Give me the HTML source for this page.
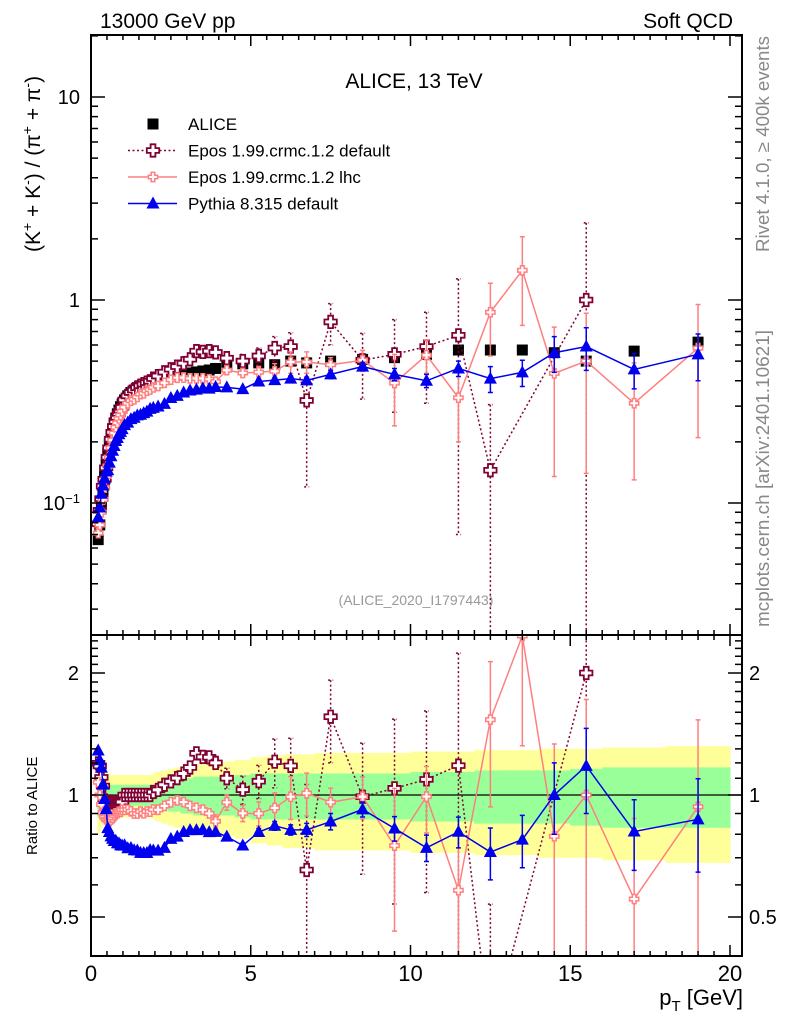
<!DOCTYPE html>
<html><head><meta charset="utf-8"><style>
html,body{margin:0;padding:0;background:#fff;width:786px;height:1024px;overflow:hidden;}
svg{display:block;font-family:"Liberation Sans",sans-serif;overflow:hidden;}
</style></head><body>
<svg id="chart" xmlns="http://www.w3.org/2000/svg" width="786" height="1024" viewBox="0 0 786 1024">
<defs>
<clipPath id="clipMain"><rect x="91" y="35" width="651" height="600"/></clipPath>
<clipPath id="clipRatio"><rect x="91" y="635" width="651" height="321"/></clipPath>
</defs>
<g id="bands" clip-path="url(#clipRatio)"></g>
<g id="ratioMarks" clip-path="url(#clipRatio)"></g>
<g id="mainMarks" clip-path="url(#clipMain)"></g>
<g id="axes"></g>
<text x="100" y="28" font-size="21">13000 GeV pp</text>
<text x="733" y="28" font-size="21" text-anchor="end">Soft QCD</text>
<text x="414" y="88" font-size="21" text-anchor="middle">ALICE, 13 TeV</text>
<text x="416" y="605" font-size="14" fill="#999" text-anchor="middle">(ALICE_2020_I1797443)</text>
<text transform="translate(769,252) rotate(-90)" font-size="18" fill="#888" textLength="216" lengthAdjust="spacingAndGlyphs">Rivet 4.1.0, ≥ 400k events</text>
<text transform="translate(769,627) rotate(-90)" font-size="18" fill="#888" textLength="297" lengthAdjust="spacingAndGlyphs">mcplots.cern.ch [arXiv:2401.10621]</text>
<text transform="translate(40,252) rotate(-90)" font-size="21">(K<tspan baseline-shift="super" font-size="14">+</tspan> + K<tspan baseline-shift="super" font-size="14">-</tspan>) / (π<tspan baseline-shift="super" font-size="14">+</tspan> + π<tspan baseline-shift="super" font-size="14">-</tspan>)</text>
<text transform="translate(37,855) rotate(-90)" font-size="15">Ratio to ALICE</text>
<text x="743" y="1005" font-size="22" text-anchor="end">p<tspan font-size="15" dy="6">T</tspan><tspan dy="-6"> [GeV]</tspan></text>
<g id="legend"></g>
</svg>
<script>
const pT=[0.225,0.275,0.325,0.375,0.425,0.475,0.525,0.575,0.625,0.675,0.725,0.775,0.825,0.875,0.925,0.975,1.05,1.15,1.25,1.35,1.45,1.55,1.65,1.75,1.85,1.95,2.1,2.3,2.5,2.7,2.9,3.1,3.3,3.5,3.7,3.9,4.25,4.75,5.25,5.75,6.25,6.75,7.5,8.5,9.5,10.5,11.5,12.5,13.5,14.5,15.5,17,19];
const binEdges=[0.2,0.25,0.3,0.35,0.4,0.45,0.5,0.55,0.6,0.65,0.7,0.75,0.8,0.85,0.9,0.95,1.0,1.1,1.2,1.3,1.4,1.5,1.6,1.7,1.8,1.9,2.0,2.2,2.4,2.6,2.8,3.0,3.2,3.4,3.6,3.8,4.0,4.5,5.0,5.5,6.0,6.5,7.0,8.0,9.0,10,11,12,13,14,15,16,18,20];
const alice=[0.066,0.078,0.095,0.115,0.135,0.155,0.175,0.195,0.215,0.232,0.248,0.262,0.275,0.287,0.298,0.308,0.322,0.337,0.35,0.36,0.37,0.378,0.385,0.392,0.398,0.403,0.41,0.416,0.422,0.427,0.432,0.437,0.442,0.447,0.452,0.46,0.47,0.485,0.49,0.48,0.5,0.49,0.5,0.51,0.52,0.54,0.567,0.567,0.567,0.55,0.5,0.56,0.62];
const aliceStatRel=[0.12,0.11,0.09,0.08,0.08,0.07,0.07,0.06,0.06,0.06,0.06,0.06,0.06,0.06,0.06,0.06,0.06,0.06,0.06,0.06,0.06,0.06,0.06,0.06,0.06,0.06,0.07,0.08,0.09,0.09,0.1,0.1,0.11,0.11,0.11,0.11,0.11,0.12,0.13,0.13,0.13,0.13,0.13,0.13,0.13,0.14,0.14,0.15,0.15,0.15,0.16,0.17,0.17];
const aliceTotRel=[0.2,0.19,0.17,0.15,0.15,0.14,0.13,0.13,0.12,0.12,0.12,0.12,0.12,0.12,0.12,0.12,0.12,0.12,0.12,0.12,0.12,0.12,0.12,0.12,0.12,0.13,0.14,0.15,0.16,0.17,0.18,0.18,0.19,0.19,0.2,0.2,0.21,0.22,0.24,0.25,0.26,0.26,0.27,0.27,0.27,0.28,0.28,0.29,0.29,0.3,0.3,0.31,0.32];
const eposDef=[0.079,0.092,0.105,0.121,0.131,0.149,0.168,0.187,0.206,0.223,0.238,0.252,0.264,0.276,0.286,0.296,0.322,0.337,0.35,0.36,0.37,0.378,0.385,0.392,0.398,0.41,0.422,0.441,0.456,0.47,0.488,0.511,0.56,0.555,0.56,0.552,0.517,0.50,0.53,0.58,0.59,0.32,0.78,0.505,0.54,0.59,0.67,0.145,null,null,1.0,null,null];
const eposDefErr=[0,0,0,0,0,0,0,0,0,0,0,0,0,0,0,0,0,0,0,0,0,0,0,0,0,0,0,0,0,0,0,0,0.02,0.02,0.02,0.02,0.03,0.04,0.05,0.08,0.1,0.2,0.18,0.18,0.26,0.28,0.6,0.16,0,0,1.4,0,0];
const eposLhc=[0.071,0.078,0.090,0.104,0.119,0.135,0.152,0.168,0.187,0.204,0.221,0.236,0.248,0.261,0.271,0.283,0.296,0.310,0.319,0.324,0.333,0.344,0.347,0.357,0.362,0.371,0.377,0.391,0.405,0.414,0.415,0.411,0.411,0.411,0.407,0.396,0.451,0.437,0.441,0.446,0.495,0.495,0.48,0.505,0.39,0.535,0.33,0.87,1.4,0.435,0.5,0.31,0.58];
const eposLhcErr=[0,0,0,0,0,0,0,0,0,0,0,0,0,0,0,0,0,0,0,0,0,0,0,0,0,0,0,0,0,0,0,0,0.01,0.01,0.01,0.015,0.02,0.02,0.03,0.04,0.06,0.06,0.04,0.06,0.15,0.1,0.13,0.34,0.65,0.3,0.36,0.18,0.37];
const pythia=[0.085,0.095,0.111,0.122,0.132,0.143,0.145,0.158,0.170,0.181,0.191,0.202,0.209,0.218,0.224,0.231,0.242,0.249,0.259,0.263,0.270,0.272,0.277,0.282,0.291,0.294,0.299,0.308,0.329,0.337,0.350,0.358,0.362,0.367,0.366,0.373,0.371,0.364,0.397,0.403,0.41,0.402,0.43,0.47,0.43,0.40,0.46,0.41,0.44,0.55,0.59,0.455,0.54];
const pythiaErr=[0,0,0,0,0,0,0,0,0,0,0,0,0,0,0,0,0,0,0,0,0,0,0,0,0,0,0,0,0,0,0,0,0,0,0,0,0.005,0.005,0.008,0.01,0.012,0.015,0.02,0.02,0.03,0.03,0.04,0.06,0.065,0.11,0.14,0.09,0.14];
const xTickLabels=["0","5","10","15","20"];
const xTickValues=[0,5,10,15,20];

const NS="http://www.w3.org/2000/svg";
const X0=91,XPX=31.95;
function xs(v){return X0+v*XPX;}
function ym(v){return 97+(1-Math.log10(v))*203;}
function yr(r){return 795-Math.log2(r)*122;}
function mk(tag,attrs,parent){const e=document.createElementNS(NS,tag);for(const k in attrs)e.setAttribute(k,attrs[k]);parent.appendChild(e);return e;}
function crossPts(cx,cy,s,a){return [[cx-a,cy-s],[cx+a,cy-s],[cx+a,cy-a],[cx+s,cy-a],[cx+s,cy+a],[cx+a,cy+a],[cx+a,cy+s],[cx-a,cy+s],[cx-a,cy+a],[cx-s,cy+a],[cx-s,cy-a],[cx-a,cy-a]].map(p=>p.join(',')).join(' ');}

const bandsG=document.getElementById('bands');
for(let i=0;i<pT.length;i++){
  const x1=xs(binEdges[i]),x2=xs(binEdges[i+1]);
  const y=mk('rect',{x:x1,y:yr(1+aliceTotRel[i]),width:x2-x1+0.5,height:yr(1-aliceTotRel[i])-yr(1+aliceTotRel[i]),fill:'#ffff99'},bandsG);
  
  
}
for(let i=0;i<pT.length;i++){
  const x1=xs(binEdges[i]),x2=xs(binEdges[i+1]);
  const g=mk('rect',{x:x1,y:yr(1+aliceStatRel[i]),width:x2-x1+0.5,height:yr(1-aliceStatRel[i])-yr(1+aliceStatRel[i]),fill:'#99ff99'},bandsG);
  
  
}

const mainG=document.getElementById('mainMarks');
const ratioG=document.getElementById('ratioMarks');
const one=mk('line',{x1:91,x2:742,y1:yr(1),y2:yr(1),stroke:'#000','stroke-width':1.2},ratioG);



for(let i=0;i<pT.length;i++){
  const r=mk('rect',{x:xs(pT[i])-5.5,y:ym(alice[i])-5.5,width:11,height:11,fill:'#000'},mainG);
  
  
}

function drawSeries(vals,errs,color,dash,marker,name){
  for(const panel of ['main','ratio']){
    const G=panel==='main'?mainG:ratioG;
    const yf=panel==='main'?(i=>ym(vals[i])):(i=>yr(vals[i]/alice[i]));
    const pts=[];
    for(let i=0;i<pT.length;i++){ if(vals[i]!==null) pts.push([xs(pT[i]),yf(i)]); }
    const pl=mk('polyline',{points:pts.map(p=>p.join(',')).join(' '),fill:'none',stroke:color,'stroke-width':1.5},G);
    if(dash) pl.setAttribute('stroke-dasharray',dash);
    
    
    for(let i=0;i<pT.length;i++){
      if(vals[i]===null) continue;
      const x=xs(pT[i]);
      if(errs[i]>0){
        let hi=vals[i]+errs[i],lo=vals[i]-errs[i];
        let yh,yl;
        const bottom=panel==='main'?640:960;
        if(panel==='main'){yh=ym(hi);yl=lo>0?Math.min(ym(lo),bottom):bottom;}
        else{yh=yr(hi/alice[i]);yl=lo>0?Math.min(yr(lo/alice[i]),bottom):bottom;}
        const eb=mk('path',{d:`M${x},${yh}V${yl}M${x-2.5},${yh}H${x+2.5}M${x-2.5},${yl}H${x+2.5}`,stroke:color,'stroke-width':1.5,fill:'none'},G);
        if(dash) eb.setAttribute('stroke-dasharray',dash);
        
        
      }
      const y=yf(i);
      let m;
      if(marker==='bigcross') m=mk('polygon',{points:crossPts(x,y,6.2,2.4),fill:'#fff',stroke:color,'stroke-width':1.8},G);
      else if(marker==='smallcross') m=mk('polygon',{points:crossPts(x,y,4.6,1.8),fill:'#fff',stroke:color,'stroke-width':1.5},G);
      else m=mk('polygon',{points:`${x},${y-7} ${x+6.5},${y+5} ${x-6.5},${y+5}`,fill:color},G);
      
      
    }
  }
}
drawSeries(eposDef,eposDefErr,'#800033','2,2.5','bigcross','epos-default');
drawSeries(eposLhc,eposLhcErr,'#ff7f7f',null,'smallcross','epos-lhc');
drawSeries(pythia,pythiaErr,'#0000ee',null,'triangle','pythia');

const ax=document.getElementById('axes');
const f1=mk('rect',{x:91,y:35,width:651,height:600,fill:'none',stroke:'#000','stroke-width':2},ax);


const f2=mk('rect',{x:91,y:635,width:651,height:321,fill:'none',stroke:'#000','stroke-width':2},ax);


let d='';
for(let v=0;v<=20.3;v+=0.5){
  const x=xs(v),L=(Math.abs(v%5)<1e-6)?11:5;
  d+=`M${x},35v${L}M${x},635v${-L}M${x},635v${L}M${x},956v${-L}`;
}
for(let e=-2;e<=1;e++){for(let k=1;k<=9;k++){const v=k*Math.pow(10,e);if(v<0.023||v>20.5)continue;const y=ym(v);const L=k===1?14:7;d+=`M91,${y}h${L}M742,${y}h${-L}`;}}
for(let k=4;k<=24;k++){const v=k/10;const y=yr(v);const L=(k===5||k===10||k===20)?14:7;d+=`M91,${y}h${L}M742,${y}h${-L}`;}
const tk=mk('path',{d:d,stroke:'#000','stroke-width':1.5,fill:'none'},ax);


for(let i=0;i<xTickValues.length;i++){
  const t=mk('text',{x:xs(xTickValues[i]),y:981,'font-size':22,'text-anchor':'middle'},ax);
  t.textContent=xTickLabels[i];
  
  
}
const mainLabels=[[10,'10'],[1,'1']];
for(const [v,s] of mainLabels){const t=mk('text',{x:80,y:ym(v)+7,'font-size':20,'text-anchor':'end'},ax);t.textContent=s;}
const tm=mk('text',{x:80,y:ym(0.1)+7,'font-size':20,'text-anchor':'end'},ax);
tm.innerHTML='10<tspan baseline-shift="super" font-size="13">−1</tspan>';


for(const [v,s] of [[2,'2'],[1,'1'],[0.5,'0.5']]){
  const a=mk('text',{x:79,y:yr(v)+7,'font-size':20,'text-anchor':'end'},ax);a.textContent=s;
  const b=mk('text',{x:749,y:yr(v)+7,'font-size':20},ax);b.textContent=s;
}

const lg=document.getElementById('legend');
const entries=[['ALICE','sq','#000',null],['Epos 1.99.crmc.1.2 default','bigcross','#800033','2,2.5'],['Epos 1.99.crmc.1.2 lhc','smallcross','#ff7f7f',null],['Pythia 8.315 default','triangle','#0000ee',null]];
entries.forEach((en,i)=>{
  const y=124+i*26.5;
  const g=mk('g',{},lg);
  
  
  if(en[1]==='sq'){mk('rect',{x:147.5,y:y-5.5,width:11,height:11,fill:'#000'},g);}
  else{
    const l=mk('line',{x1:128,x2:177,y1:y,y2:y,stroke:en[2],'stroke-width':1.5},g);
    if(en[3]) l.setAttribute('stroke-dasharray',en[3]);
    if(en[1]==='bigcross') mk('polygon',{points:crossPts(153,y,6.2,2.4),fill:'#fff',stroke:en[2],'stroke-width':1.8},g);
    else if(en[1]==='smallcross') mk('polygon',{points:crossPts(153,y,4.6,1.8),fill:'#fff',stroke:en[2],'stroke-width':1.5},g);
    else mk('polygon',{points:`153,${y-7} 159.5,${y+5} 146.5,${y+5}`,fill:en[2]},g);
  }
  const t=mk('text',{x:188,y:y+6,'font-size':17},g);
  t.textContent=en[0];
});
</script>
</body></html>
